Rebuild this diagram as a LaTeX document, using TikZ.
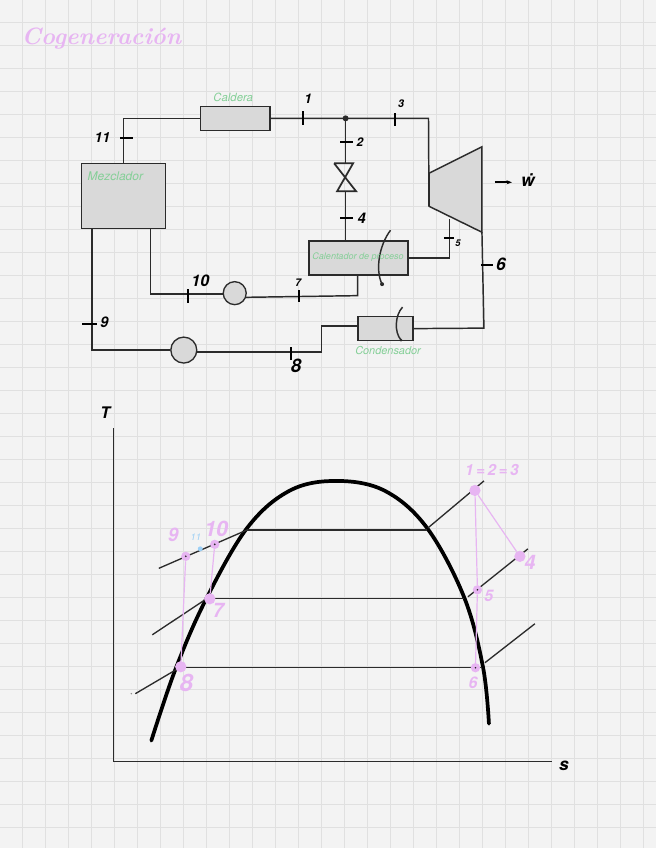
\documentclass[tikz,border=0pt]{standalone}
\usepackage{fontspec}
\setsansfont{TeX Gyre Heros}
\usepackage{xcolor}
\usetikzlibrary{arrows.meta,positioning}
\definecolor{paperbg}{HTML}{F3F3F3}
\definecolor{gridgrey}{HTML}{E0E0E0}
\definecolor{boxgrey}{HTML}{D9D9D9}
\definecolor{linedark}{HTML}{2B2B2B}
\definecolor{notegreen}{HTML}{84CF97}
\definecolor{notepink}{HTML}{E7B5F2}
\definecolor{noteblue}{HTML}{9CCFF5}
\newcommand{\numfont}[1]{\sffamily\bfseries\slshape\fontsize{#1}{#1}\selectfont}
\newcommand{\notefont}[1]{\sffamily\slshape\fontsize{#1}{#1}\selectfont}
\tikzset{
  boxnode/.style={draw=linedark,fill=boxgrey,line width=1.1pt,inner sep=0pt},
  pumpnode/.style={circle,draw=linedark,fill=boxgrey,line width=1pt,inner sep=0pt},
  pipe/.style={draw=linedark,line width=1.1pt},
  tickline/.style={draw=black,line width=1.3pt},
  numlabel/.style={font=\numfont{10},text=black,inner sep=0pt},
  greenlabel/.style={font=\notefont{8.5},text=notegreen,inner sep=0pt},
  pinklabel/.style={font=\numfont{13},text=notepink,inner sep=0pt},
  pinkdot/.style={circle,fill=notepink,inner sep=0pt,minimum size=8.5pt},
  pinkring/.style={circle,fill=notepink,inner sep=0pt,minimum size=7pt},
  pinkline/.style={draw=notepink,line width=0.9pt},
  statline/.style={draw=linedark,line width=1pt},
}
\begin{document}
\begin{tikzpicture}[x=0.75pt,y=-0.75pt]
  % Paper
  \fill[paperbg] (0,0) rectangle (656,848);
  \foreach \gx in {22.5,45.5,...,644} \draw[gridgrey,line width=0.75pt] (\gx,0) -- (\gx,848);
  \foreach \gy in {22.5,45.5,...,840} \draw[gridgrey,line width=0.75pt] (0,\gy) -- (656,\gy);
  \node[font=\bfseries\itshape\fontsize{17.7}{18}\selectfont,text=notepink,inner sep=0pt] (title) at (101,38) {Cogeneración};
  % Components
  \node[boxnode,minimum width=52pt,minimum height=18pt] (caldera) at (235,118) {};
  \node[boxnode,minimum width=63pt,minimum height=48.75pt] (mezclador) at (123,195.5) {};
  \node[boxnode,minimum width=74.25pt,minimum height=25.5pt] (calentador) at (358.5,258) {};
  \node[boxnode,minimum width=41.25pt,minimum height=18pt] (condensador) at (385.5,328.5) {};
  \node[pumpnode,minimum size=17.25pt] (pumpup) at (234.5,293) {};
  \node[pumpnode,minimum size=19.5pt] (pumpdown) at (183.5,350) {};
  \coordinate (turbA) at (429,173);
  \coordinate (turbB) at (482,146.5);
  \coordinate (turbC) at (482,232);
  \coordinate (turbD) at (429,206);
  \draw[boxnode] (turbA) -- (turbB) -- (turbC) -- (turbD) -- cycle;
  % Valve
  \coordinate (valveA) at (334,163);
  \coordinate (valveB) at (353,163);
  \coordinate (valveC) at (337,191);
  \coordinate (valveD) at (356,191);
  \coordinate (valvetop) at (345.5,163);
  \coordinate (valvebot) at (345.5,191);
  \draw[pipe,line width=1.3pt] (valveA) -- (valveB) -- (valveC) -- (valveD) -- (valveA);
  % Pipes
  \coordinate (junction) at (345.5,118);
  \coordinate (topright) at (428.5,118);
  \coordinate (turbout) at (449.5,219);
  \coordinate (condright) at (484,328);
  \coordinate (condleft) at (321.5,326);
  \coordinate (pumpright) at (321.5,352);
  \coordinate (mezleft) at (91.5,228);
  \coordinate (mezright) at (150,228);
  \coordinate (mezrightlow) at (150,294);
  \coordinate (calcorner) at (357.5,295.5);
  \draw[pipe] (mezclador.north) |- (caldera.west);
  \draw[pipe] (caldera.east) -- (junction) -- (topright) -- (turbD);
  \draw[pipe,line width=1.6pt] (turbA) -- (turbD);
  \fill[linedark] (junction) circle (3);
  \draw[pipe] (junction) -- (valvetop);
  \draw[pipe] (valvebot) -- (calentador.north -| valvebot);
  \draw[pipe] (calentador.east) -| (turbout);
  \draw[pipe] (turbC) -- (condright) -- (condensador.east);
  \draw[pipe] (condensador.west |- condleft) -- (condleft) -- (pumpright) -- (pumpdown.east |- pumpright);
  \draw[pipe] (pumpdown.west) -| (mezleft);
  \draw[pipe] (mezright) |- (pumpup.west |- mezrightlow);
  \draw[pipe] (pumpup.-20) -- (calcorner) -- (calentador.south -| calcorner);
  % Strokes over the boxes
  \draw[pipe] (390.5,230) .. controls (379,245) and (375,270) .. (382,284);
  \fill[linedark] (382,284) circle (2);
  \draw[pipe] (402.5,307) .. controls (395,315) and (394,332) .. (401,340);
  \fill[linedark] (401,340) circle (1.5);
  % Ticks
  \draw[tickline] (303,111) -- (303,125);
  \draw[tickline] (395,113) -- (395,126);
  \draw[tickline] (120,138) -- (133,138);
  \draw[tickline] (340,142) -- (353,142);
  \draw[tickline] (340,218) -- (353,218);
  \draw[tickline] (444,238) -- (454,238);
  \draw[tickline] (481,265) -- (493,265);
  \draw[tickline] (299,290) -- (299,302);
  \draw[tickline] (188,289) -- (188,303);
  \draw[tickline] (291,347) -- (291,360);
  \draw[tickline] (82,324) -- (97,324);
  % Labels of the cycle
  \node[numlabel] (lab1) at (308,98) {1};
  \node[numlabel,font=\numfont{9}] (lab2) at (360,142) {2};
  \node[numlabel,font=\numfont{8}] (lab3) at (401,103) {3};
  \node[numlabel,font=\numfont{11}] (lab4) at (361.5,218) {4};
  \node[numlabel,font=\numfont{7}] (lab5) at (458,243) {5};
  \node[numlabel,font=\numfont{13}] (lab6) at (501,264) {6};
  \node[numlabel,font=\numfont{8}] (lab7) at (298,283) {7};
  \node[numlabel,font=\numfont{14}] (lab8) at (296,366) {8};
  \node[numlabel,font=\numfont{11}] (lab9) at (104,322) {9};
  \node[numlabel,font=\numfont{12}] (lab10) at (200,281) {10};
  \node[numlabel,font=\numfont{10.5}] (lab11) at (102,137) {11};
  \node[numlabel,font=\numfont{13}] (labw) at (528,180) {\.{w}};
  \coordinate (wstart) at (495,182);
  \coordinate (wend) at (512,182);
  \draw[-{Stealth[length=4pt]},tickline] (wstart) -- (wend);
  \node[greenlabel] (labcaldera) at (233,97) {Caldera};
  \node[greenlabel,font=\notefont{9}] (labmezclador) at (115,176) {Mezclador};
  \node[greenlabel,font=\notefont{6.8}] (labcalentador) at (358,257) {Calentador de proceso};
  \node[greenlabel,font=\notefont{8.2}] (labcondensador) at (388,350) {Condensador};
  % T-s axes
  \coordinate (origin) at (113,762);
  \coordinate (taxis) at (113,428);
  \coordinate (saxis) at (552,762);
  \draw[pipe] (taxis) -- (origin) -- (saxis);
  \node[numlabel,font=\numfont{12}] (labT) at (105,413) {T};
  \node[numlabel,font=\numfont{13}] (labs) at (564,766) {s};
  % Dome
  \draw[black,line width=2.8pt,line cap=round] plot[smooth,tension=0.6] coordinates {(151,741) (175,670) (205,601) (247,528) (290,490.5) (337,481) (385,491) (427,528) (464,597) (483,667) (489,724)};
  % Lines of constant pressure
  \coordinate (satA) at (247,530);
  \coordinate (satB) at (427,530);
  \coordinate (satC) at (207,598.5);
  \coordinate (satD) at (464,598.5);
  \coordinate (satE) at (180,667.5);
  \coordinate (satF) at (482,667.5);
  \draw[statline] (satA) -- (satB);
  \draw[statline] (satC) -- (satD);
  \draw[statline] (satE) -- (satF);
  \draw[statline] (158.5,568.5) -- (satA);
  \draw[statline] (428,528) -- (484,481);
  \draw[statline] (152,635) -- (satC);
  \draw[statline] (468,597) -- (528,549);
  \draw[statline] (135,694) -- (satE);
  \draw[statline] (485,663) -- (535,624);
  \fill[gridgrey!60!black] (131,694) circle (0.8);
  % States
  \node[pinkdot] (st1) at (475,490.5) {};
  \node[pinkdot] (st4) at (520,556.5) {};
  \node[pinkring] (st5) at (477.5,590) {};
  \node[pinkring] (st6) at (475.5,668) {};
  \node[pinkring] (st9) at (185.5,556.5) {};
  \node[pinkring] (st10) at (214.5,544.5) {};
  \node[pinkdot] (st7) at (209.5,599) {};
  \node[pinkdot] (st8) at (180.5,667) {};
  \foreach \st in {st5,st6,st9,st10} \fill[linedark] (\st) circle (0.9);
  \draw[pinkline] (st1) -- (st4);
  \draw[pinkline] (st1) -- (st5);
  \draw[pinkline] (st5) -- (st6);
  \draw[pinkline] (st9) -- (st8);
  \draw[pinkline] (st10) -- (st7);
  \fill[noteblue] (200,549) circle (2.5);
  \node[font=\notefont{7},text=noteblue,inner sep=0pt] (lab11b) at (195.5,537) {11};
  \node[pinklabel,font=\numfont{11.5}] (labst1) at (492,470) {1\,=\,2\,=\,3};
  \node[pinklabel,font=\numfont{15}] (labst4) at (530,563) {4};
  \node[pinklabel,font=\numfont{12}] (labst5) at (489,596) {5};
  \node[pinklabel,font=\numfont{12}] (labst6) at (473,683) {6};
  \node[pinklabel,font=\numfont{14}] (labst9) at (173,535) {9};
  \node[pinklabel,font=\numfont{16}] (labst10) at (216,529) {10};
  \node[pinklabel,font=\numfont{15}] (labst7) at (218,611) {7};
  \node[pinklabel,font=\numfont{18}] (labst8) at (186,683) {8};
\end{tikzpicture}
\end{document}
